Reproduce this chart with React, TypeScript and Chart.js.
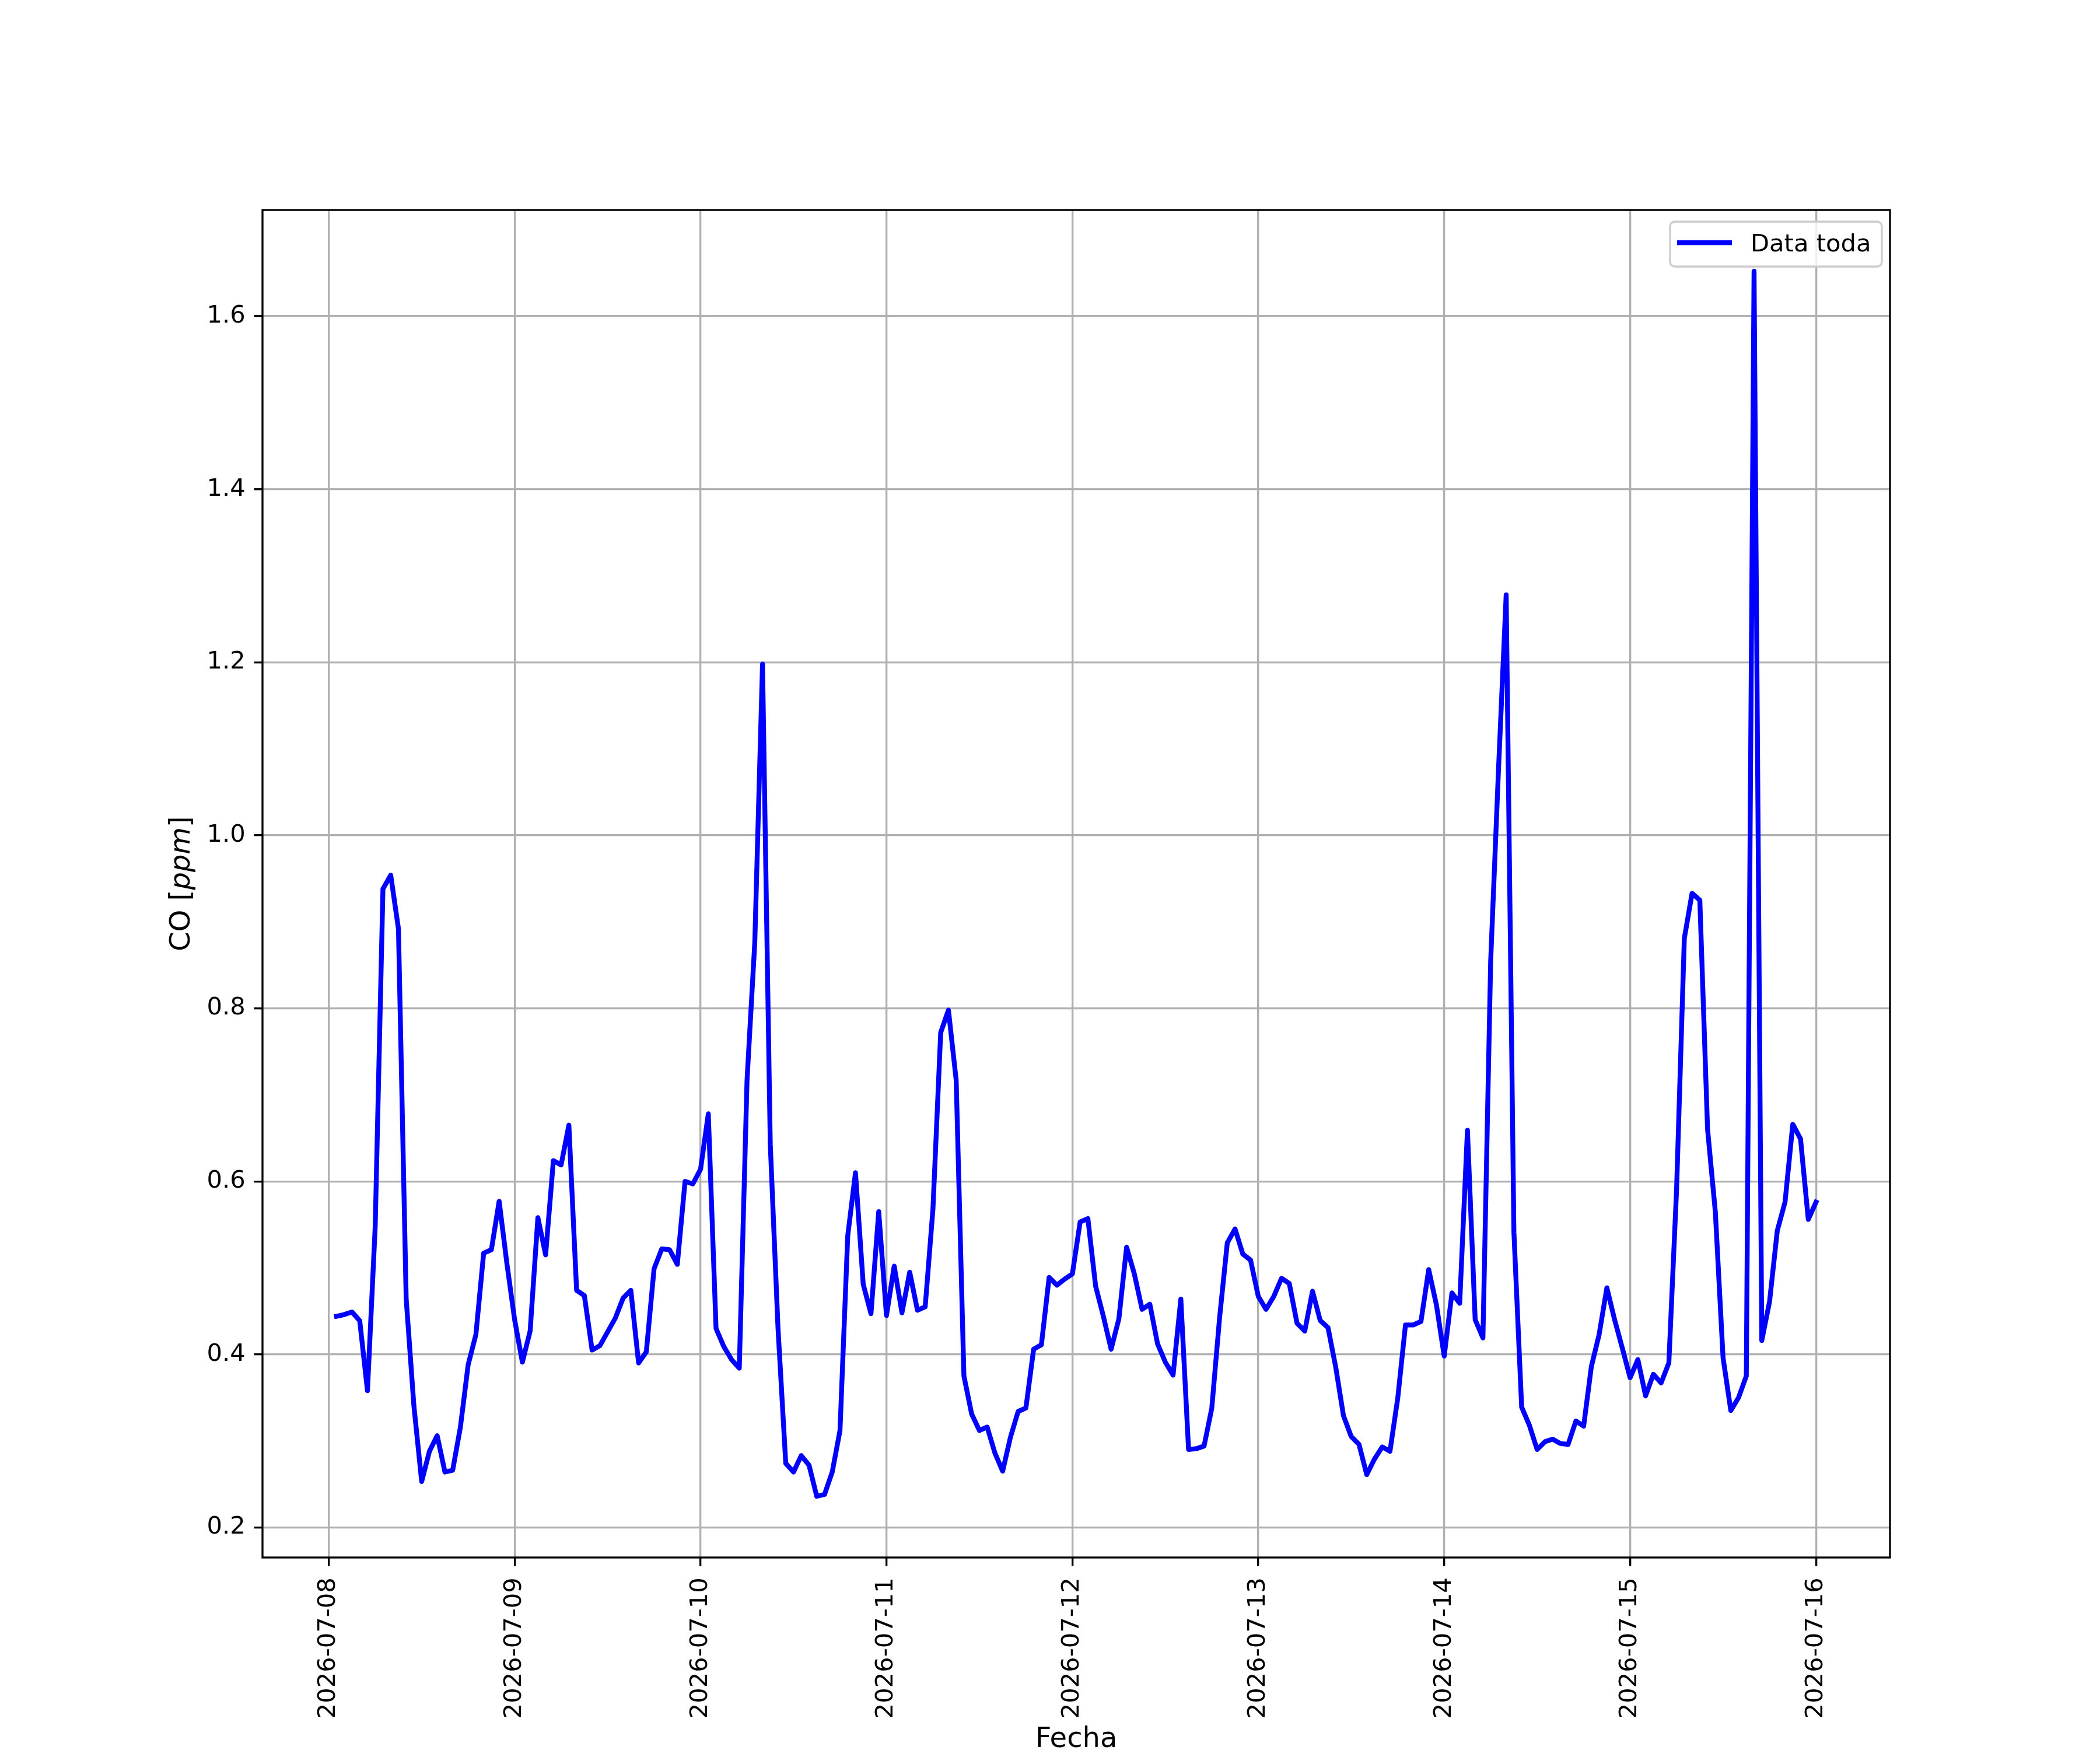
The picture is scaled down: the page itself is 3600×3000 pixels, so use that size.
import React, { useEffect, useRef } from "react";
import { Chart, registerables } from "chart.js";

Chart.register(...registerables);

// ---- data ----
const seriesLabel = "Data toda";
const xAxisTitle = "Fecha";
const yAxisTitleMain = "CO [";
const yAxisTitleUnit = "ppm";
const yAxisTitleEnd = "]";

// day tick labels (one every 24 h, starting 2026-07-08 00:00)
const dayTickLabels = [
  "2026-07-08",
  "2026-07-09",
  "2026-07-10",
  "2026-07-11",
  "2026-07-12",
  "2026-07-13",
  "2026-07-14",
  "2026-07-15",
  "2026-07-16",
];

const yTickValues = [0.2, 0.4, 0.6, 0.8, 1.0, 1.2, 1.4, 1.6];

// hourly CO values [ppm], from 2026-07-08 01:00 to 2026-07-16 00:00
const coValues = [
  // 07-08 01..24
  0.444, 0.446, 0.449, 0.439, 0.358, 0.548, 0.938, 0.954, 0.892, 0.464, 0.340, 0.253,
  0.288, 0.306, 0.264, 0.266, 0.316, 0.388, 0.423, 0.517, 0.521, 0.577, 0.505, 0.440,
  // 07-09 01..24
  0.391, 0.427, 0.558, 0.515, 0.624, 0.619, 0.665, 0.474, 0.468, 0.405, 0.410, 0.426,
  0.442, 0.465, 0.474, 0.390, 0.403, 0.499, 0.522, 0.521, 0.504, 0.600, 0.597, 0.614,
  // 07-10 01..24
  0.678, 0.430, 0.409, 0.394, 0.384, 0.717, 0.876, 1.198, 0.643, 0.430, 0.274, 0.264,
  0.283, 0.272, 0.236, 0.238, 0.264, 0.312, 0.537, 0.610, 0.481, 0.447, 0.565, 0.445,
  // 07-11 01..24
  0.502, 0.448, 0.495, 0.451, 0.455, 0.568, 0.772, 0.798, 0.717, 0.375, 0.331, 0.312,
  0.316, 0.286, 0.265, 0.304, 0.334, 0.338, 0.406, 0.411, 0.489, 0.480, 0.487, 0.493,
  // 07-12 01..24
  0.553, 0.557, 0.479, 0.444, 0.406, 0.441, 0.524, 0.493, 0.452, 0.458, 0.412, 0.391,
  0.376, 0.464, 0.290, 0.291, 0.294, 0.338, 0.442, 0.529, 0.545, 0.516, 0.509, 0.467,
  // 07-13 01..24
  0.452, 0.467, 0.488, 0.482, 0.436, 0.427, 0.473, 0.439, 0.431, 0.385, 0.329, 0.305,
  0.296, 0.261, 0.279, 0.293, 0.288, 0.349, 0.434, 0.434, 0.438, 0.498, 0.457, 0.398,
  // 07-14 01..24
  0.471, 0.459, 0.659, 0.440, 0.419, 0.855, 1.074, 1.278, 0.541, 0.339, 0.318, 0.290,
  0.299, 0.302, 0.297, 0.296, 0.323, 0.317, 0.386, 0.423, 0.477, 0.440, 0.407, 0.373,
  // 07-15 01..24
  0.394, 0.352, 0.377, 0.367, 0.390, 0.591, 0.881, 0.933, 0.925, 0.660, 0.565, 0.396,
  0.335, 0.350, 0.375, 1.652, 0.416, 0.461, 0.543, 0.576, 0.666, 0.649, 0.556, 0.576,
];

// hours since 2026-07-08 00:00 for each hourly sample
const hourOffsets = coValues.map((_, i) => i + 1);

// ---- styling constants (pixels at 300 dpi) ----
const PT = 300 / 72;
const FONT = "'DejaVu Sans', 'Liberation Sans', sans-serif";
const TICK_FONT_PX = 10 * PT;
const LABEL_FONT_PX = 48;
const LINE_W = 2 * PT;
const THIN = 0.8 * PT;
const TICK_LEN = 3.5 * PT;

const W = 3600;
const H = 3000;
const AX_LEFT = 450;
const AX_RIGHT = 3240;
const AX_TOP = 360;
const AX_BOTTOM = 2670;

export default function App() {
  const canvasRef = useRef<HTMLCanvasElement | null>(null);

  useEffect(() => {
    const canvas = canvasRef.current;
    if (!canvas) return;
    const ctx = canvas.getContext("2d");
    if (!ctx) return;

    const xFirst = hourOffsets[0];
    const xLast = hourOffsets[hourOffsets.length - 1];
    const xPad = 0.05 * (xLast - xFirst);
    const yMinD = Math.min(...coValues);
    const yMaxD = Math.max(...coValues);
    const yPad = 0.05 * (yMaxD - yMinD);

    const decorPlugin = {
      id: "decor",
      afterDraw(chart: any) {
        const c = chart.ctx as CanvasRenderingContext2D;
        const a = chart.chartArea;
        c.save();
        // frame (spines)
        c.strokeStyle = "#000000";
        c.lineWidth = THIN;
        c.lineJoin = "miter";
        c.strokeRect(a.left, a.top, a.right - a.left, a.bottom - a.top);

        // x axis title
        c.fillStyle = "#000000";
        c.font = `${LABEL_FONT_PX}px ${FONT}`;
        c.textAlign = "center";
        c.textBaseline = "alphabetic";
        c.fillText(xAxisTitle, (a.left + a.right) / 2, 2995);

        // y axis title (rotated, with italic unit)
        c.save();
        c.translate(325, (a.top + a.bottom) / 2);
        c.rotate(-Math.PI / 2);
        const normalFont = `${LABEL_FONT_PX}px ${FONT}`;
        const italicFont = `oblique ${LABEL_FONT_PX}px ${FONT}`;
        c.font = normalFont;
        const w1 = c.measureText(yAxisTitleMain).width;
        const w3 = c.measureText(yAxisTitleEnd).width;
        c.font = italicFont;
        const w2 = c.measureText(yAxisTitleUnit).width;
        let xPos = -(w1 + w2 + w3) / 2;
        c.textAlign = "left";
        c.font = normalFont;
        c.fillText(yAxisTitleMain, xPos, 0);
        xPos += w1;
        c.font = italicFont;
        c.fillText(yAxisTitleUnit, xPos, 0);
        xPos += w2;
        c.font = normalFont;
        c.fillText(yAxisTitleEnd, xPos, 0);
        c.restore();

        // legend (upper right, inside axes)
        const lx = 2863;
        const ly = 380;
        const lw = 363;
        const lh = 77;
        const r = 8;
        c.beginPath();
        c.moveTo(lx + r, ly);
        c.lineTo(lx + lw - r, ly);
        c.arcTo(lx + lw, ly, lx + lw, ly + r, r);
        c.lineTo(lx + lw, ly + lh - r);
        c.arcTo(lx + lw, ly + lh, lx + lw - r, ly + lh, r);
        c.lineTo(lx + r, ly + lh);
        c.arcTo(lx, ly + lh, lx, ly + lh - r, r);
        c.lineTo(lx, ly + r);
        c.arcTo(lx, ly, lx + r, ly, r);
        c.closePath();
        c.fillStyle = "rgba(255,255,255,0.8)";
        c.fill();
        c.strokeStyle = "#cccccc";
        c.lineWidth = 1.0 * PT * 0.8;
        c.stroke();

        c.beginPath();
        c.strokeStyle = "#0000ff";
        c.lineWidth = LINE_W;
        c.lineCap = "butt";
        c.moveTo(2875, 416);
        c.lineTo(2969, 416);
        c.stroke();

        c.fillStyle = "#000000";
        c.font = `${TICK_FONT_PX}px ${FONT}`;
        c.textAlign = "left";
        c.textBaseline = "alphabetic";
        c.fillText(seriesLabel, 3001, 431);
        c.restore();
      },
    };

    const chart = new Chart(ctx, {
      type: "line",
      data: {
        datasets: [
          {
            label: seriesLabel,
            data: hourOffsets.map((h, i) => ({ x: h, y: coValues[i] })),
            borderColor: "#0000ff",
            backgroundColor: "#0000ff",
            borderWidth: LINE_W,
            pointRadius: 0,
            pointHoverRadius: 0,
            tension: 0,
            fill: false,
            borderJoinStyle: "round",
            borderCapStyle: "square",
          },
        ],
      },
      options: {
        responsive: false,
        maintainAspectRatio: false,
        animation: false,
        devicePixelRatio: 1,
        events: [],
        layout: {
          padding: { top: AX_TOP, right: W - AX_RIGHT, left: 0, bottom: 0 },
        },
        plugins: {
          legend: { display: false },
          tooltip: { enabled: false },
          title: { display: false },
        },
        scales: {
          x: {
            type: "linear",
            min: xFirst - xPad,
            max: xLast + xPad,
            afterBuildTicks: (s: any) => {
              s.ticks = dayTickLabels.map((_, i) => ({ value: i * 24 }));
            },
            afterFit: (s: any) => {
              s.height = H - AX_BOTTOM;
            },
            ticks: {
              autoSkip: false,
              minRotation: 90,
              maxRotation: 90,
              padding: TICK_LEN + 5,
              color: "#000000",
              font: { family: FONT, size: TICK_FONT_PX },
              callback: (_v: any, index: number) => dayTickLabels[index],
            },
            grid: {
              color: "#b0b0b0",
              lineWidth: THIN,
              tickColor: "#000000",
              tickWidth: THIN,
              tickLength: TICK_LEN,
              drawTicks: true,
            },
            border: { display: false },
            title: { display: false },
          },
          y: {
            type: "linear",
            min: yMinD - yPad,
            max: yMaxD + yPad,
            afterBuildTicks: (s: any) => {
              s.ticks = yTickValues.map((v) => ({ value: v }));
            },
            afterFit: (s: any) => {
              s.width = AX_LEFT;
            },
            ticks: {
              autoSkip: false,
              padding: TICK_LEN,
              color: "#000000",
              font: { family: FONT, size: TICK_FONT_PX },
              callback: (v: any) => Number(v).toFixed(1),
            },
            grid: {
              color: "#b0b0b0",
              lineWidth: THIN,
              tickColor: "#000000",
              tickWidth: THIN,
              tickLength: TICK_LEN,
              drawTicks: true,
            },
            border: { display: false },
            title: { display: false },
          },
        },
      },
      plugins: [decorPlugin],
    } as any);

    return () => {
      chart.destroy();
    };
  }, []);

  return (
    <div
      style={{
        position: "fixed",
        left: 0,
        top: 0,
        width: W,
        height: H,
        background: "#ffffff",
      }}
    >
      <canvas
        ref={canvasRef}
        width={W}
        height={H}
        style={{ width: W, height: H, display: "block" }}
      />
    </div>
  );
}
